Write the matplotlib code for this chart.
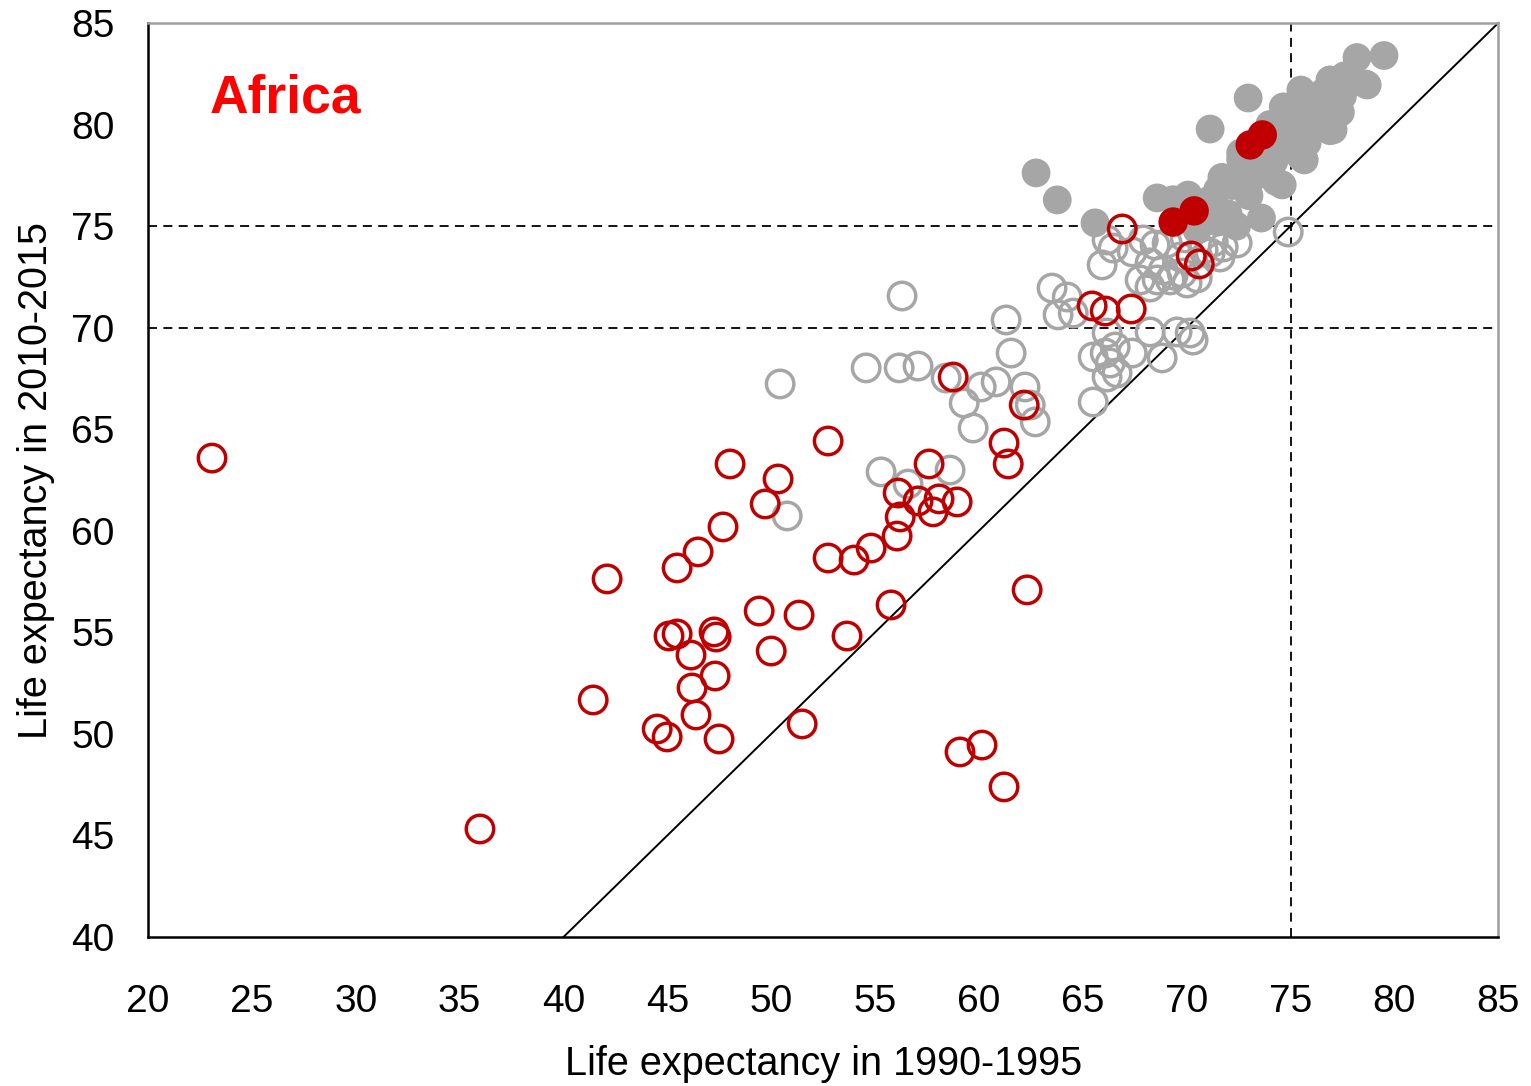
import matplotlib
matplotlib.use("Agg")
import matplotlib.pyplot as plt
import numpy as np

plt.rcParams['font.family'] = ['Liberation Sans', 'DejaVu Sans']

# Africa, not reaching 75 (open red)
africa_open_x = [23.08, 35.98, 41.43, 42.10, 44.51, 44.99, 45.08, 45.47, 45.47, 46.14,
                 46.19, 46.38, 46.48, 47.25, 47.35, 47.30, 47.49, 47.68, 48.02, 49.42,
                 49.71, 50.00, 50.33, 51.34, 51.49, 52.74, 52.74, 53.65, 53.99, 54.81,
                 55.77, 56.06, 56.11, 56.21, 57.07, 57.60, 57.79, 58.08, 58.95, 58.76,
                 59.09, 60.15, 61.21, 61.21, 61.41, 62.18, 62.32, 65.45, 66.08, 67.33,
                 66.90, 70.22, 70.61]
africa_open_y = [63.58, 45.32, 51.67, 57.63, 50.24, 49.85, 54.82, 54.92, 58.17, 53.88,
                 52.26, 50.93, 58.96, 55.02, 54.77, 52.85, 49.75, 60.19, 63.29, 56.05,
                 61.32, 54.08, 62.55, 55.85, 50.49, 64.42, 58.66, 54.82, 58.56, 59.15,
                 56.35, 59.74, 61.86, 60.68, 61.47, 63.29, 60.93, 61.57, 61.42, 67.57,
                 49.11, 49.45, 47.39, 64.32, 63.29, 66.19, 57.09, 71.07, 70.82, 70.92,
                 74.86, 73.53, 73.14]

# Africa, reaching 75 (filled red)
africa_fill_x = [69.35, 70.36, 73.06, 73.64]
africa_fill_y = [75.20, 75.75, 79.00, 79.49]

# Rest of world, below 75 (open grey)
other_open_x = [50.43, 50.77, 54.57, 56.16, 56.30, 57.07, 55.29, 56.59, 58.61, 58.42,
                59.29, 59.72, 60.11, 60.83, 61.31, 61.55, 62.22, 62.47, 62.71, 63.52,
                63.81, 64.25, 64.54, 65.50, 65.50, 66.08, 66.17, 66.17, 66.32, 66.56,
                66.65, 67.38, 68.24, 68.82, 69.54, 70.17, 70.31, 65.93, 66.17, 66.46,
                67.38, 67.91, 68.48, 68.24, 67.76, 68.24, 68.87, 69.21, 69.78, 70.02,
                70.51, 69.06, 69.93, 69.69, 70.79, 71.13, 71.28, 71.61, 71.76, 72.43,
                74.89, 69.35, 68.58]
other_open_y = [67.23, 60.73, 68.02, 68.02, 71.56, 68.11, 62.90, 62.30, 62.99, 67.52,
                66.29, 65.06, 67.08, 67.33, 70.38, 68.75, 67.08, 66.19, 65.36, 71.95,
                70.63, 71.51, 70.72, 68.56, 66.34, 68.75, 69.74, 67.57, 68.26, 69.05,
                67.77, 68.75, 69.79, 68.51, 69.79, 69.74, 69.39, 73.09, 74.32, 73.92,
                73.73, 74.32, 74.07, 73.19, 72.35, 72.00, 72.84, 72.35, 72.69, 72.20,
                72.45, 74.17, 74.42, 73.48, 73.83, 73.68, 74.22, 73.48, 73.97, 74.17,
                74.71, 72.59, 72.35]

# Rest of world, reaching 75 (filled grey)
other_fill_x = [62.75, 63.77, 65.59, 68.58, 69.35, 70.07, 70.50, 71.13, 71.30, 71.50,
                71.70, 72.00, 72.40, 72.60, 72.60, 73.20, 73.60, 74.60, 71.13, 72.96,
                73.90, 74.50, 74.65, 75.00, 75.50, 75.66, 75.80, 75.80, 76.10, 76.90,
                76.90, 77.05, 77.40, 77.50, 78.20, 78.60, 79.50, 78.69, 73.50, 74.00,
                74.80, 75.30, 76.30, 76.60, 77.00, 72.20, 72.90, 71.50, 73.00, 73.80,
                72.96, 72.60, 74.20, 75.20, 76.00, 77.60, 75.50, 74.30]
other_fill_y = [77.62, 76.29, 75.16, 76.39, 76.30, 76.53, 74.80, 76.30, 75.30, 75.20,
                77.40, 75.60, 75.00, 77.50, 78.60, 77.40, 75.40, 77.03, 79.78, 81.31,
                78.90, 79.40, 80.87, 78.80, 78.40, 78.26, 81.40, 79.10, 80.30, 82.20,
                79.70, 79.74, 80.60, 81.40, 83.30, 82.00, 83.40, 81.95, 79.00, 80.00,
                80.20, 80.60, 81.20, 81.60, 81.00, 77.00, 78.00, 76.80, 76.50, 77.60,
                78.75, 78.30, 78.20, 79.60, 80.80, 82.40, 81.70, 77.20]

x_ticks = [20, 25, 30, 35, 40, 45, 50, 55, 60, 65, 70, 75, 80, 85]
y_ticks = [40, 45, 50, 55, 60, 65, 70, 75, 80, 85]

RED = '#C00000'
GREY = '#A6A6A6'

fig = plt.figure(figsize=(15.31, 10.86), dpi=100)
ax = fig.add_axes([0.0967, 0.1372, 0.8819, 0.8416])

ms = 390
lw = 2.5
ax.scatter(other_open_x, other_open_y, s=ms, facecolors='none', edgecolors=GREY, linewidths=lw, zorder=3)
ax.scatter(other_fill_x, other_fill_y, s=ms + 40, facecolors=GREY, edgecolors='none', zorder=4)
ax.scatter(africa_open_x, africa_open_y, s=ms, facecolors='none', edgecolors=RED, linewidths=lw, zorder=5)
ax.scatter(africa_fill_x, africa_fill_y, s=ms + 60, facecolors=RED, edgecolors='none', zorder=6)

ax.plot([40, 85], [40, 85], color='black', lw=1.4, zorder=2, clip_on=False)
ax.axhline(75, color='black', lw=1.3, ls=(0, (5, 3.5)), zorder=1)
ax.axhline(70, color='black', lw=1.3, ls=(0, (5, 3.5)), zorder=1)
ax.axvline(75, color='black', lw=1.3, ls=(0, (5, 3.5)), zorder=1)

ax.set_xlim(20, 85)
ax.set_ylim(40, 85)
ax.set_xticks(x_ticks)
ax.set_yticks(y_ticks)
ax.tick_params(axis='both', length=0, labelsize=28)
ax.tick_params(axis='x', pad=34)
ax.tick_params(axis='y', pad=24)

for s in ['left', 'bottom']:
    ax.spines[s].set_color('black')
    ax.spines[s].set_linewidth(1.8)
for s in ['top', 'right']:
    ax.spines[s].set_color('#A0A0A0')
    ax.spines[s].set_linewidth(1.8)

ax.set_xlabel('Life expectancy in 1990-1995', fontsize=28.5, labelpad=18)
ax.set_ylabel('Life expectancy in 2010-2015', fontsize=28.5, labelpad=12)

ax.text(22.95, 80.6, 'Africa', color='#FF0000', fontsize=38.5, fontweight='bold',
        ha='left', va='baseline')

fig.savefig('out.png', dpi=100)
